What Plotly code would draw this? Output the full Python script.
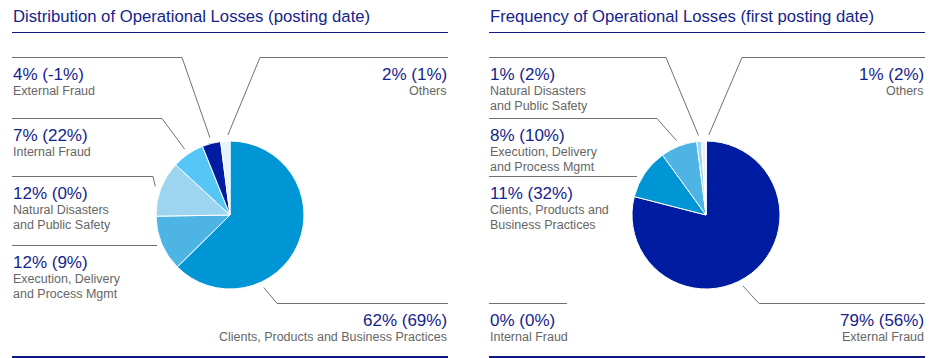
import math
import plotly.graph_objects as go

W, H = 936, 358

# ---------------- data ----------------
loss_categories = ["Clients, Products and Business Practices", "Execution, Delivery and Process Mgmt",
                   "Natural Disasters and Public Safety", "Internal Fraud", "External Fraud", "Others"]
loss_share = [62, 12, 12, 7, 4, 2]
loss_change = [69, 9, 0, 22, -1, 1]

freq_categories = ["External Fraud", "Clients, Products and Business Practices",
                   "Execution, Delivery and Process Mgmt", "Natural Disasters and Public Safety",
                   "Others", "Internal Fraud"]
freq_share = [79, 11, 8, 1, 1, 0]
freq_change = [56, 32, 10, 2, 2, 0]

titles = ["Distribution of Operational Losses (posting date)",
          "Frequency of Operational Losses (first posting date)"]

# ---------------- styles ----------------
cat_colors = {
    "Clients, Products and Business Practices": "#0096D6",
    "Execution, Delivery and Process Mgmt": "#4DB4E3",
    "Natural Disasters and Public Safety": "#9DD5F0",
    "Internal Fraud": "#55C6F5",
    "External Fraud": "#001CA0",
    "Others": "#E6F3FB",
}
NAVY = "#14248C"
RULE = "#0E1A80"
GRAY_TXT = "#666666"
GRAY_LINE = "#707070"
FONT = "Liberation Sans, Arial, sans-serif"

panels = [
    dict(x0=12, x1=448, cx=230, cy=215, r=74,
         cats=loss_categories, share=loss_share, change=loss_change, title=titles[0],
         place={
             "External Fraud": dict(side="left", y=57, ex=182, ang="mid"),
             "Others": dict(side="right", y=57, ex=260, ang=358.5),
             "Internal Fraud": dict(side="left", y=118, ex=162, ang="mid"),
             "Natural Disasters and Public Safety": dict(side="left", y=176, ex=153, ang="mid"),
             "Execution, Delivery and Process Mgmt": dict(side="left", y=245, ex=157, ang=None),
             "Clients, Products and Business Practices": dict(side="right", y=303, ex=277, ang=155),
         },
         lines={
             "Natural Disasters and Public Safety": ["Natural Disasters", "and Public Safety"],
             "Execution, Delivery and Process Mgmt": ["Execution, Delivery", "and Process Mgmt"],
         }),
    dict(x0=489, x1=925, cx=706, cy=215, r=74,
         cats=freq_categories, share=freq_share, change=freq_change, title=titles[1],
         place={
             "Natural Disasters and Public Safety": dict(side="left", y=57, ex=666, ang="mid"),
             "Others": dict(side="right", y=57, ex=742, ang=2),
             "Execution, Delivery and Process Mgmt": dict(side="left", y=118, ex=657, ang="mid"),
             "Clients, Products and Business Practices": dict(side="left", y=176, ex=637, ang=None),
             "Internal Fraud": dict(side="left", y=303, ex=567, ang=None),
             "External Fraud": dict(side="right", y=303, ex=759, ang=152.5),
         },
         lines={
             "Natural Disasters and Public Safety": ["Natural Disasters", "and Public Safety"],
             "Execution, Delivery and Process Mgmt": ["Execution, Delivery", "and Process Mgmt"],
             "Clients, Products and Business Practices": ["Clients, Products and", "Business Practices"],
         }),
]


def px(x):
    return x / W


def py(y):
    return 1 - y / H


fig = go.Figure()
shapes = []
annotations = []

for p in panels:
    cx, cy, r = p["cx"], p["cy"], p["r"]
    fig.add_trace(go.Pie(
        labels=p["cats"], values=p["share"], sort=False, direction="clockwise", rotation=0,
        marker=dict(colors=[cat_colors[c] for c in p["cats"]], line=dict(color="white", width=1)),
        textinfo="none", hoverinfo="label+percent", showlegend=False,
        domain=dict(x=[px(cx - r), px(cx + r)], y=[py(cy + r), py(cy - r)]),
    ))
    # title + rules
    annotations.append(dict(text=p["title"], x=px(p["x0"]), y=py(16.2), xref="paper", yref="paper",
                            xanchor="left", yanchor="middle", showarrow=False, borderpad=0,
                            font=dict(family=FONT, size=16.7, color=NAVY)))
    shapes.append(dict(type="line", xref="paper", yref="paper", x0=px(p["x0"]), x1=px(p["x1"]),
                       y0=py(32.5), y1=py(32.5), line=dict(color=RULE, width=1)))
    shapes.append(dict(type="line", xref="paper", yref="paper", x0=px(p["x0"]), x1=px(p["x1"]),
                       y0=py(357), y1=py(357), line=dict(color=RULE, width=2)))

    total = sum(p["share"])
    cum = 0
    mids = {}
    for c, v in zip(p["cats"], p["share"]):
        mids[c] = (cum + v / 2) / total * 360
        cum += v

    for c, v, ch in zip(p["cats"], p["share"], p["change"]):
        pl = p["place"][c]
        left = pl["side"] == "left"
        xa = p["x0"] if left else p["x1"]
        ly = pl["y"] + 0.5
        # horizontal rule
        shapes.append(dict(type="line", xref="paper", yref="paper", x0=px(xa), x1=px(pl["ex"]),
                           y0=py(ly), y1=py(ly), line=dict(color=GRAY_LINE, width=1)))
        # diagonal leader to the pie
        if pl["ang"] is not None:
            ang = mids[c] if pl["ang"] == "mid" else pl["ang"]
            rr = r + 6
            tx = cx + rr * math.sin(math.radians(ang))
            ty = cy - rr * math.cos(math.radians(ang))
            shapes.append(dict(type="line", xref="paper", yref="paper", x0=px(pl["ex"]), x1=px(tx),
                               y0=py(ly), y1=py(ty), line=dict(color=GRAY_LINE, width=1)))
        anchor = "left" if left else "right"
        annotations.append(dict(text=f"{v}% ({ch}%)", x=px(xa), y=py(pl["y"] + 17), xref="paper", yref="paper",
                                xanchor=anchor, yanchor="middle", showarrow=False, borderpad=0,
                                font=dict(family=FONT, size=17, color=NAVY)))
        for i, t in enumerate(p["lines"].get(c, [c])):
            annotations.append(dict(text=t, x=px(xa), y=py(pl["y"] + 33.7 + 15.3 * i), xref="paper",
                                    yref="paper", xanchor=anchor, yanchor="middle", showarrow=False,
                                    borderpad=0, font=dict(family=FONT, size=12.5, color=GRAY_TXT)))

fig.update_layout(width=W, height=H, margin=dict(l=0, r=0, t=0, b=0),
                  paper_bgcolor="white", plot_bgcolor="white",
                  shapes=shapes, annotations=annotations, font=dict(family=FONT))

fig.write_html("out.html", config={"displayModeBar": False},
               post_script="document.body.style.margin='0';document.body.style.overflow='hidden';")
